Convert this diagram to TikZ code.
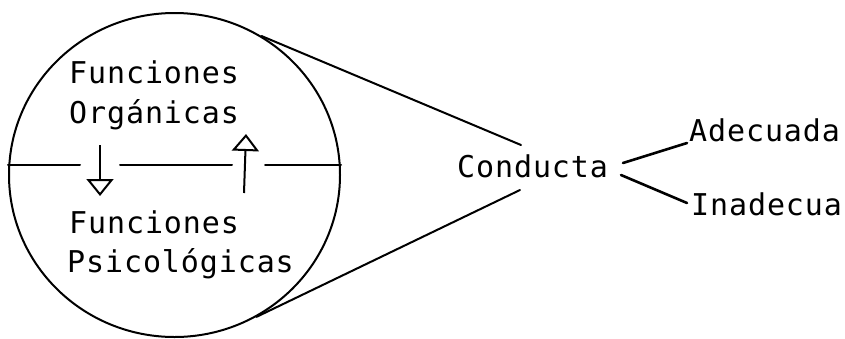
\documentclass[tikz,border=0pt]{standalone}
\usepackage{fontspec}
\setmonofont[LetterSpace=3]{DejaVu Sans Mono}
\usetikzlibrary{arrows.meta,shapes.geometric}
\begin{document}
\begin{tikzpicture}[x=1pt,y=-1pt,
  lbl/.style={inner sep=0pt,anchor=base west,font=\fontsize{30}{32}\selectfont\ttfamily},
  ln/.style={line width=2pt,line cap=round},
  br/.style={line width=2.6pt,line cap=round},
  arr/.style={line width=2pt,-{Triangle[open,length=17pt,width=27pt]}}]
\useasboundingbox (0,0) rectangle (845,338);
\node[draw,ellipse,line width=2pt,minimum width=331pt,minimum height=324pt,inner sep=0pt] (circ) at (174.5,175) {};
% horizontal divider
\coordinate (h1) at (80,165); \coordinate (h2) at (120,165);
\coordinate (h3) at (232,165); \coordinate (h4) at (265,165);
\draw[ln] (circ.west |- h1) -- (h1);
\draw[ln] (h2) -- (h3);
\draw[ln] (h4) -- (circ.east |- h4);
% texts
\node[lbl] (f1) at (69,83) {Funciones};
\node[lbl] (org) at (69,123) {Orgánicas};
\node[lbl] (f2) at (69,233) {Funciones};
\node[lbl] (psi) at (67,272) {Psicológicas};
\node[lbl] (cond) at (457,177) {Conducta};
\node[lbl] (ade) at (689,141) {Adecuada};
\node[lbl] (ina) at (691,215) {Inadecua};
% arrows
\coordinate (d1) at (100,145); \coordinate (d2) at (100,196);
\coordinate (u1) at (244,193); \coordinate (u2) at (246,134);
\draw[arr] (d1) -- (d2);
\draw[arr] (u1) -- (u2);
% tangents to Conducta
\coordinate (ct) at (521,145); \coordinate (cb) at (520,190);
\draw[ln] (circ.58) -- (ct);
\draw[ln] (circ.-60) -- (cb);
% branches
\coordinate (ca) at (623,163); \coordinate (ci) at (621,175);
\coordinate (ae) at (687,143); \coordinate (ie) at (687,203);
\draw[br] (ca) -- (ae);
\draw[br] (ci) -- (ie);
\end{tikzpicture}
\end{document}
